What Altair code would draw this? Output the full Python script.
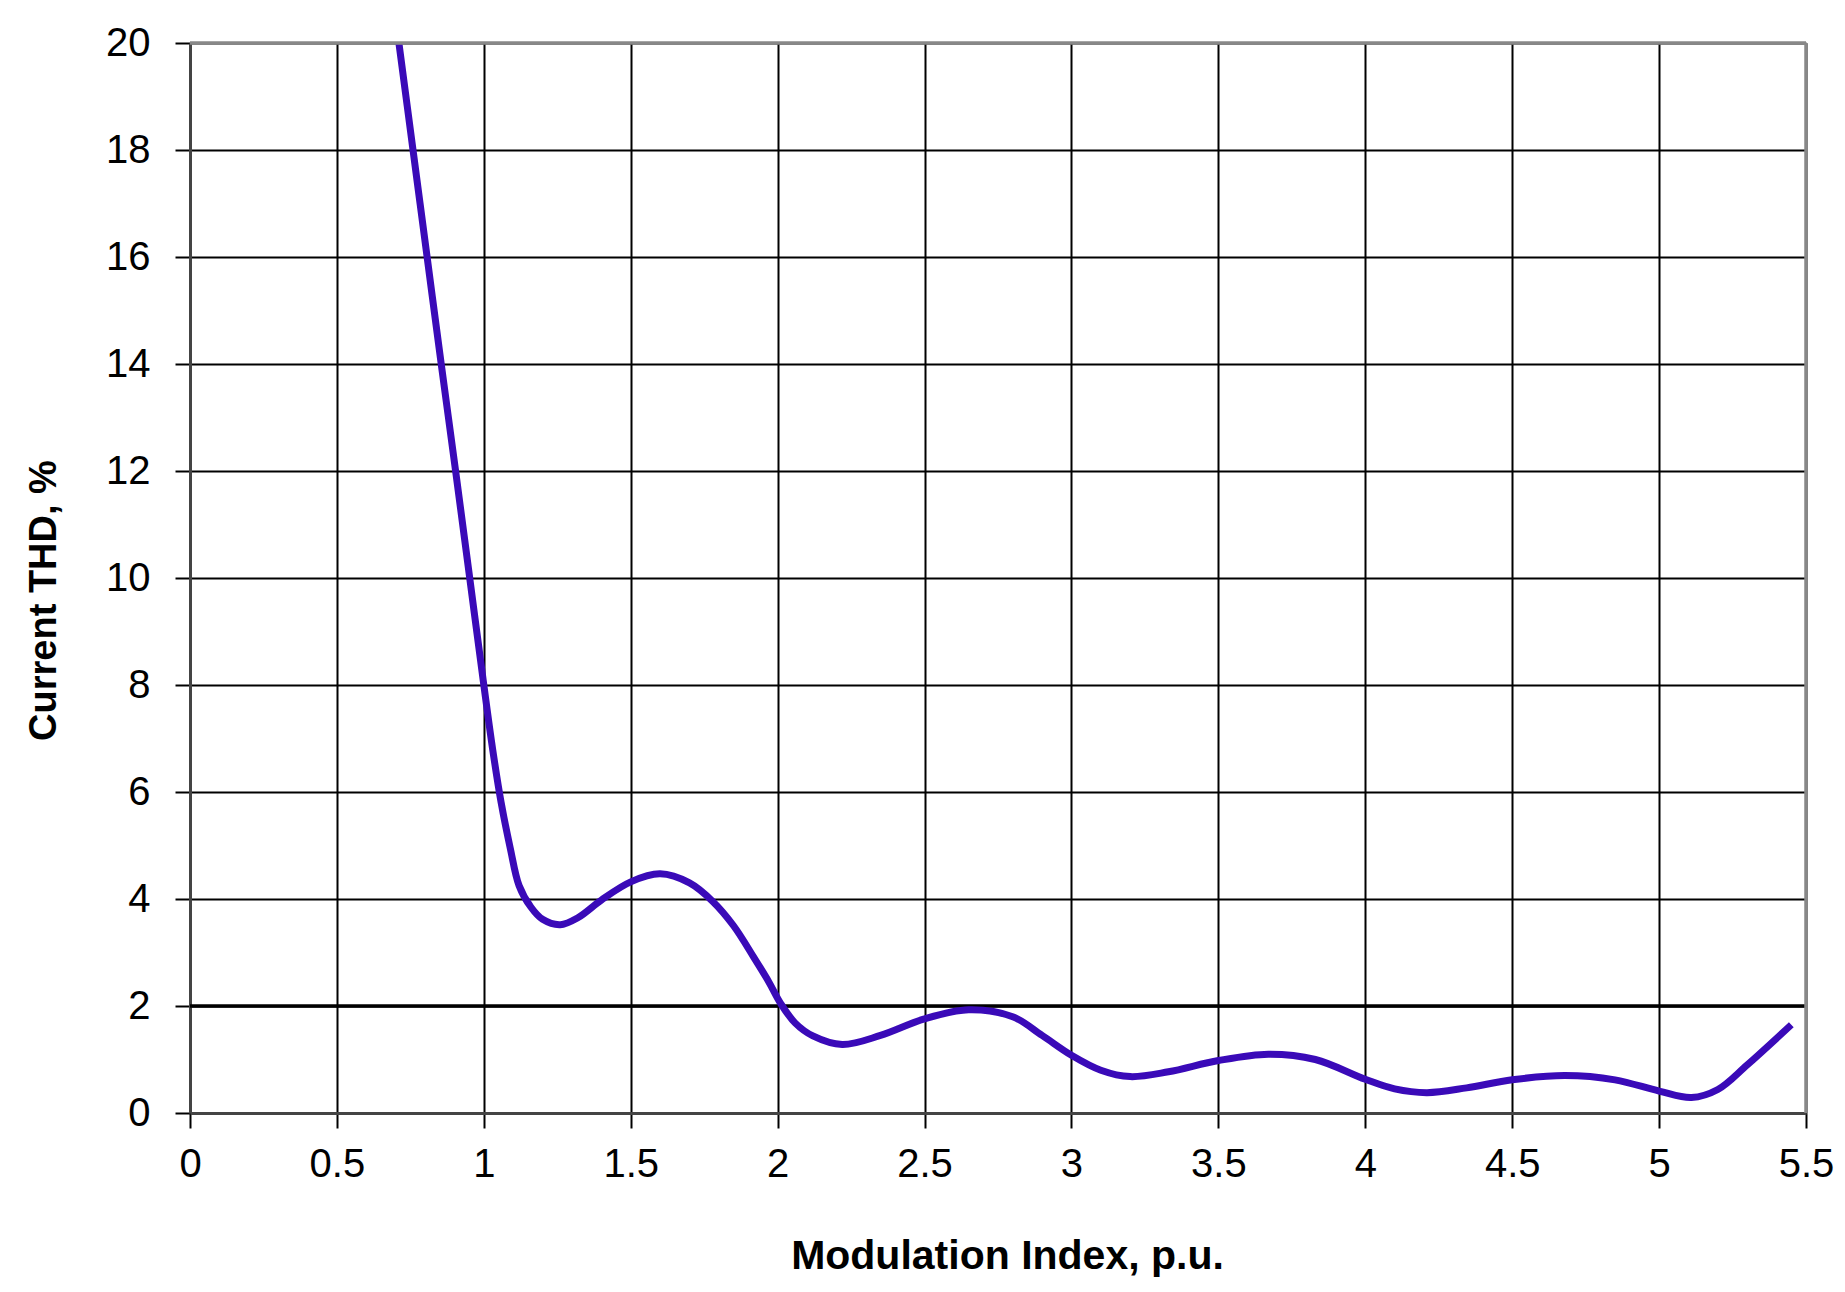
import altair as alt
import pandas as pd

# Data
mod_index = [0.711, 0.759, 0.807, 0.855, 0.904, 0.952, 1.0, 1.03, 1.059, 1.09,
             1.12, 1.16, 1.2, 1.26, 1.32, 1.4, 1.5, 1.6, 1.7, 1.78,
             1.85, 1.92, 1.97, 2.01, 2.06, 2.12, 2.22, 2.35, 2.5, 2.65,
             2.8, 2.9, 3.0, 3.1, 3.2, 3.33, 3.5, 3.67, 3.83, 4.0,
             4.1, 4.21, 4.345, 4.5, 4.68, 4.85, 5.0, 5.11, 5.2, 5.3, 5.45]
thd = [20.0, 18.0, 16.0, 14.0, 12.0, 10.0, 8.0, 6.8, 5.8, 4.95,
       4.25, 3.85, 3.62, 3.52, 3.65, 3.98, 4.32, 4.47, 4.3, 3.95,
       3.5, 2.9, 2.45, 2.05, 1.68, 1.44, 1.28, 1.45, 1.76, 1.93,
       1.8, 1.45, 1.08, 0.80, 0.68, 0.77, 0.98, 1.10, 1.0, 0.63,
       0.45, 0.38, 0.47, 0.62, 0.70, 0.62, 0.41, 0.29, 0.44, 0.9, 1.65]

x_ticks = [0, 0.5, 1, 1.5, 2, 2.5, 3, 3.5, 4, 4.5, 5, 5.5]
y_ticks = [0, 2, 4, 6, 8, 10, 12, 14, 16, 18, 20]
threshold = [2]

df = pd.DataFrame({"m": mod_index, "thd": thd})

FONT = "Liberation Sans"

xscale = alt.Scale(domain=[0, 5.5], nice=False, zero=False)
yscale = alt.Scale(domain=[0, 20], nice=False)

x_axis = alt.Axis(
    values=x_ticks, format="~g", grid=True, gridColor="black", gridWidth=2,
    domainColor="#444", domainWidth=3, tickColor="black", tickWidth=2, tickSize=15,
    labelFont=FONT, labelFontSize=40, labelColor="black", labelPadding=16,
    labelFlush=False, labelOverlap=False,
    title="Modulation Index, p.u.", titleFont=FONT, titleFontSize=41,
    titleFontWeight="bold", titleColor="black",
    titleX=817, titleY=155, titleAlign="center", titleBaseline="alphabetic",
)
y_axis = alt.Axis(
    values=y_ticks, grid=True, gridColor="black", gridWidth=2,
    domainColor="#444", domainWidth=3, tickColor="black", tickWidth=2, tickSize=15,
    labelFont=FONT, labelFontSize=40, labelColor="black", labelPadding=25,
    labelFlush=False, labelOverlap=False,
    title="Current THD, %", titleFont=FONT, titleFontSize=38,
    titleFontWeight="bold", titleColor="black",
    titleX=-135, titleY=557, titleAlign="center", titleBaseline="alphabetic",
    titleAngle=270,
)

curve = alt.Chart(df).mark_line(
    color="#3A0AB8", strokeWidth=7, interpolate="catmull-rom", clip=True
).encode(
    x=alt.X("m:Q", scale=xscale, axis=x_axis),
    y=alt.Y("thd:Q", scale=yscale, axis=y_axis),
)

limit = alt.Chart(pd.DataFrame({"y": threshold})).mark_rule(
    color="black", strokeWidth=3.5
).encode(y=alt.Y("y:Q", scale=yscale))

top_border = alt.Chart(pd.DataFrame({"y": [20]})).mark_rule(
    color="#888", strokeWidth=3.5
).encode(y=alt.Y("y:Q", scale=yscale))

right_border = alt.Chart(pd.DataFrame({"x": [5.5]})).mark_rule(
    color="#888", strokeWidth=3.5
).encode(x=alt.X("x:Q", scale=xscale))

chart = alt.layer(limit, curve, top_border, right_border).properties(
    width=1616, height=1070,
    autosize=alt.AutoSizeParams(type="none"),
    padding={"left": 182, "top": 35, "right": 30, "bottom": 170},
    background="white",
).configure_view(stroke=None)

chart.save("out.html", embed_options={"renderer": "svg", "actions": False})
